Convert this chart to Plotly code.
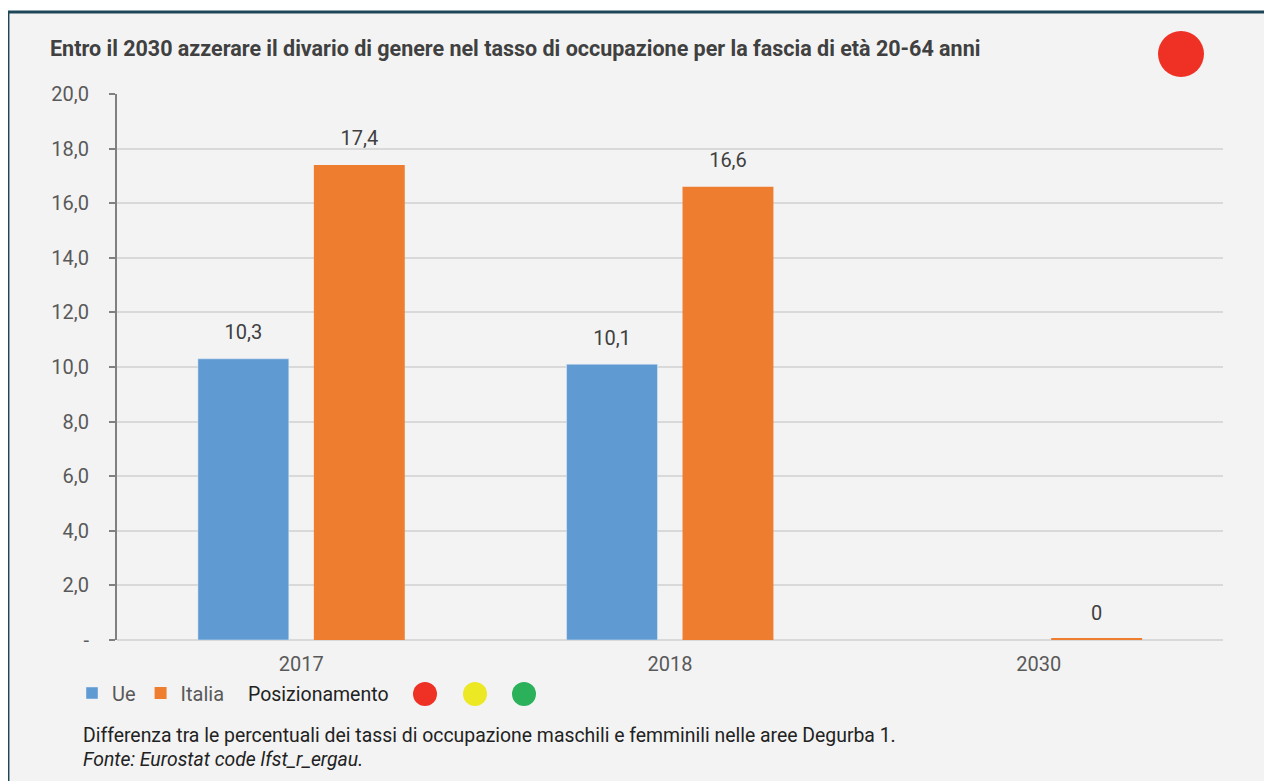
import plotly.graph_objects as go

# dati
anni = ["2017", "2018", "2030"]
ue = [10.3, 10.1, None]
italia = [17.4, 16.6, 0]
ue_etichette = ["10,3", "10,1", ""]
italia_etichette = ["17,4", "16,6", "0"]
tick_valori = [0, 2, 4, 6, 8, 10, 12, 14, 16, 18, 20]
tick_testi = ["-", "2,0", "4,0", "6,0", "8,0", "10,0", "12,0", "14,0", "16,0", "18,0", "20,0"]

BLU = "#5f9bd2"
ARANCIO = "#ee7d30"
TESTO = "#404040"

fig = go.Figure()
fig.add_trace(go.Bar(
    x=anni, y=ue, name="Ue", marker_color=BLU, offsetgroup="ue",
))
fig.add_trace(go.Bar(
    x=anni, y=italia, name="Italia", marker_color=ARANCIO, offsetgroup="it",
    marker_line=dict(color=ARANCIO, width=[0, 0, 4]),
))
# etichette dei valori, allineate alle barre
for valori, etichette, gruppo in [(ue, ue_etichette, "ue"), (italia, italia_etichette, "it")]:
    fig.add_trace(go.Scatter(
        x=anni, y=valori, text=etichette, mode="markers+text",
        textposition="top center", offsetgroup=gruppo,
        marker=dict(size=22, opacity=0), cliponaxis=False,
        textfont=dict(size=20, color=TESTO),
        showlegend=False, hoverinfo="skip",
    ))

# cornice del pannello
fig.add_shape(type="rect", xref="paper", yref="paper", layer="below",
              x0=-0.0986, x1=1.2, y0=-0.5, y1=1.15,
              fillcolor="#f3f3f3", line=dict(color="#1d4658", width=3))

# semaforo in alto a destra
fig.add_shape(type="circle", xref="paper", yref="paper",
              x0=(1158 - 117) / 1106, x1=(1204 - 117) / 1106,
              y0=(640 - 77) / 546, y1=(640 - 31) / 546,
              fillcolor="#ee3124", line_width=0)

# legenda posizionamento
for cx, col in [(425, "#ee3124"), (475, "#ece824"), (524, "#2bb15a")]:
    fig.add_shape(type="circle", xref="paper", yref="paper",
                  x0=(cx - 12 - 117) / 1106, x1=(cx + 12 - 117) / 1106,
                  y0=(640 - 706) / 546, y1=(640 - 682) / 546,
                  fillcolor=col, line_width=0)
fig.add_annotation(text="Posizionamento", xref="paper", yref="paper",
                   x=(246 - 117) / 1106, y=(640 - 694) / 546,
                   xanchor="left", yanchor="middle", showarrow=False,
                   font=dict(size=19.5, color="#222222"))

# note
fig.add_annotation(text="Differenza tra le percentuali dei tassi di occupazione maschili e femminili nelle aree Degurba 1.",
                   xref="paper", yref="paper", x=(81 - 117) / 1106, y=(640 - 735) / 546,
                   xanchor="left", yanchor="middle", showarrow=False,
                   font=dict(size=19.4, color="#222222"))
fig.add_annotation(text="<i>Fonte: Eurostat code lfst_r_ergau.</i>",
                   xref="paper", yref="paper", x=(81 - 117) / 1106, y=(640 - 759) / 546,
                   xanchor="left", yanchor="middle", showarrow=False,
                   font=dict(size=19.4, color="#222222"))

fig.update_layout(
    width=1272, height=781,
    margin=dict(l=109, r=57, t=86, b=149),
    paper_bgcolor="white", plot_bgcolor="rgba(0,0,0,0)",
    font=dict(family="Roboto, Arial, sans-serif", color="#595959", size=20),
    title=dict(text="<b>Entro il 2030 azzerare il divario di genere nel tasso di occupazione per la fascia di età 20-64 anni</b>",
               x=42 / 1272, xref="container", xanchor="left",
               y=1 - 40 / 781, yanchor="middle",
               font=dict(size=21.5, color=TESTO)),
    barmode="group", bargap=0.371, bargroupgap=0.216,
    scattermode="group", scattergap=0.371,
    showlegend=True,
    legend=dict(orientation="h", x=(72 - 117) / 1106, y=(640 - 693) / 546,
                xanchor="left", yanchor="middle",
                font=dict(size=20, color="#595959"),
                bgcolor="rgba(0,0,0,0)"),
    xaxis=dict(showgrid=False, showline=False, ticks="",
               tickfont=dict(size=20, color="#595959"), ticklabelstandoff=10),
    yaxis=dict(range=[0, 20], tickvals=tick_valori, ticktext=tick_testi,
               showgrid=True, gridcolor="#d9d9d9", gridwidth=2,
               showline=True, linecolor="#808080", linewidth=2,
               ticks="outside", ticklen=6, tickcolor="#808080", tickwidth=2,
               zeroline=True, zerolinecolor="#d9d9d9", zerolinewidth=2,
               tickfont=dict(size=20, color="#595959"), ticklabelstandoff=16),
)

fig.write_html("out.html")
